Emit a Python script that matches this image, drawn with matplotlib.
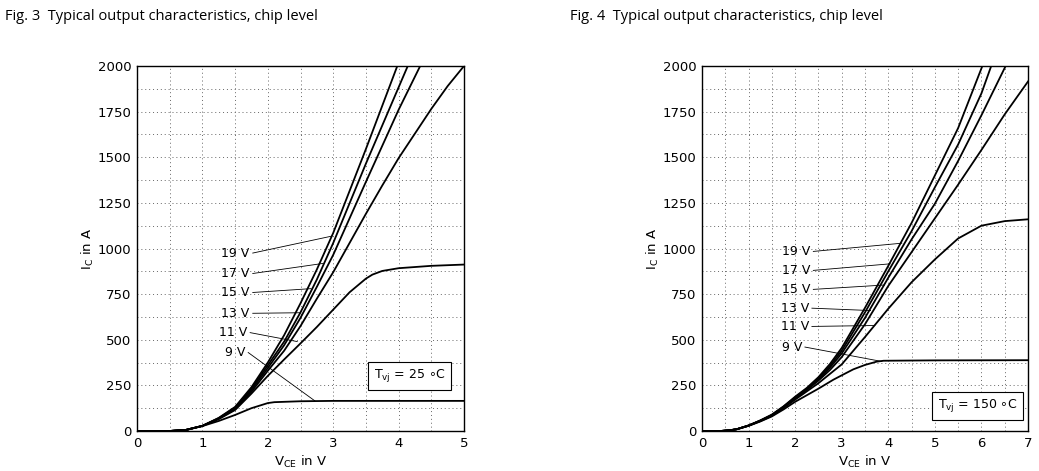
import matplotlib
matplotlib.use("Agg")
import matplotlib.pyplot as plt
from matplotlib.ticker import MultipleLocator

plt.rcParams['font.family'] = ['DejaVu Sans']
plt.rcParams['mathtext.fontset'] = 'dejavusans'

# ---- Fig. 3, Tvj = 25 C ----
v19_25 = [0, 0.5, 0.75, 1.0, 1.25, 1.5, 1.75, 2.0, 2.25, 2.5, 2.75, 3.0, 3.5, 3.98]
i19_25 = [0, 0, 6, 28, 72, 132, 240, 375, 525, 700, 885, 1085, 1545, 2000]
v17_25 = [0, 0.5, 0.75, 1.0, 1.25, 1.5, 1.75, 2.0, 2.25, 2.5, 2.75, 3.0, 3.5, 4.14]
i17_25 = [0, 0, 6, 28, 70, 128, 232, 360, 490, 650, 830, 1030, 1465, 2000]
v15_25 = [0, 0.5, 0.75, 1.0, 1.25, 1.5, 1.75, 2.0, 2.25, 2.5, 2.75, 3.0, 3.5, 4.0, 4.33]
i15_25 = [0, 0, 6, 28, 69, 125, 225, 345, 470, 620, 790, 965, 1365, 1760, 2000]
v13_25 = [0, 0.5, 0.75, 1.0, 1.25, 1.5, 1.75, 2.0, 2.25, 2.5, 2.75, 3.0, 3.25, 3.5,
          3.75, 4.0, 4.25, 4.5, 4.75, 5.0]
i13_25 = [0, 0, 6, 28, 68, 120, 215, 330, 440, 575, 725, 870, 1030, 1190,
          1345, 1495, 1630, 1765, 1890, 2000]
v11_25 = [0, 0.5, 0.75, 1.0, 1.25, 1.5, 1.75, 2.0, 2.25, 2.5, 2.75, 3.0, 3.25, 3.5,
          3.6, 3.75, 4.0, 4.5, 5.0]
i11_25 = [0, 0, 6, 28, 65, 115, 205, 302, 392, 480, 570, 665, 760, 835,
          857, 877, 892, 905, 912]
v9_25 = [0, 0.5, 0.75, 1.0, 1.25, 1.5, 1.75, 2.0, 2.1, 2.5, 3.0, 5.0]
i9_25 = [0, 0, 6, 27, 55, 88, 125, 153, 158, 163, 165, 165]

# ---- Fig. 4, Tvj = 150 C ----
v19_150 = [0, 0.4, 0.6, 0.75, 1.0, 1.25, 1.5, 1.75, 2.0, 2.25, 2.5, 2.75, 3.0, 3.5,
           4.0, 4.5, 5.0, 5.5, 6.02]
i19_150 = [0, 0, 4, 10, 30, 58, 90, 135, 188, 236, 295, 368, 455, 675,
           905, 1140, 1400, 1660, 2000]
v17_150 = [0, 0.4, 0.6, 0.75, 1.0, 1.25, 1.5, 1.75, 2.0, 2.25, 2.5, 2.75, 3.0, 3.5,
           4.0, 4.5, 5.0, 5.5, 6.0, 6.21]
i17_150 = [0, 0, 4, 10, 30, 57, 88, 133, 184, 232, 288, 358, 440, 650,
           875, 1095, 1335, 1570, 1850, 2000]
v15_150 = [0, 0.4, 0.6, 0.75, 1.0, 1.25, 1.5, 1.75, 2.0, 2.25, 2.5, 2.75, 3.0, 3.5,
           4.0, 4.5, 5.0, 5.5, 6.0, 6.52]
i15_150 = [0, 0, 4, 10, 30, 56, 86, 131, 181, 228, 282, 348, 425, 620,
           840, 1050, 1245, 1480, 1730, 2000]
v13_150 = [0, 0.4, 0.6, 0.75, 1.0, 1.25, 1.5, 1.75, 2.0, 2.25, 2.5, 2.75, 3.0, 3.5,
           4.0, 4.5, 5.0, 5.5, 6.0, 6.5, 7.0]
i13_150 = [0, 0, 4, 10, 30, 55, 85, 129, 178, 225, 276, 335, 405, 585,
           795, 980, 1165, 1350, 1540, 1735, 1915]
v11_150 = [0, 0.4, 0.6, 0.75, 1.0, 1.25, 1.5, 1.75, 2.0, 2.5, 3.0, 3.5, 4.0, 4.5,
           5.0, 5.5, 6.0, 6.5, 7.0]
i11_150 = [0, 0, 4, 10, 29, 54, 83, 126, 172, 262, 365, 515, 670, 815,
           940, 1055, 1125, 1150, 1160]
v9_150 = [0, 0.4, 0.6, 0.75, 1.0, 1.25, 1.5, 1.75, 2.0, 2.5, 2.82, 3.0, 3.25, 3.5,
          3.75, 3.9, 5.0, 7.0]
i9_150 = [0, 0, 4, 10, 28, 52, 80, 118, 160, 232, 281, 305, 338, 362,
          380, 385, 387, 388]

labels = ['19 V', '17 V', '15 V', '13 V', '11 V', '9 V']

# leader lines: start (at label) -> end (on curve)
lead25_x0 = [1.77, 1.77, 1.77, 1.77, 1.73, 1.70]
lead25_y0 = [975, 863, 759, 645, 539, 430]
lead25_x1 = [2.98, 2.84, 2.66, 2.50, 2.45, 2.72]
lead25_y1 = [1068, 918, 780, 648, 490, 165]

lead150_x0 = [2.39, 2.39, 2.39, 2.36, 2.36, 2.21]
lead150_y0 = [984, 880, 776, 673, 573, 460]
lead150_x1 = [4.29, 4.04, 3.92, 3.62, 3.71, 3.86]
lead150_y1 = [1029, 916, 800, 660, 578, 381]

curves25 = [(v19_25, i19_25), (v17_25, i17_25), (v15_25, i15_25),
            (v13_25, i13_25), (v11_25, i11_25), (v9_25, i9_25)]
curves150 = [(v19_150, i19_150), (v17_150, i17_150), (v15_150, i15_150),
             (v13_150, i13_150), (v11_150, i11_150), (v9_150, i9_150)]

fig = plt.figure(figsize=(10.39, 4.71), dpi=100)
ax1 = fig.add_axes([137/1039, 1 - 431/471, 327/1039, 365/471])
ax2 = fig.add_axes([702/1039, 1 - 431/471, 326/1039, 365/471])


def setup(ax, xmax):
    ax.set_xlim(0, xmax)
    ax.set_ylim(0, 2000)
    ax.xaxis.set_major_locator(MultipleLocator(1))
    ax.xaxis.set_minor_locator(MultipleLocator(0.5))
    ax.yaxis.set_major_locator(MultipleLocator(250))
    ax.yaxis.set_minor_locator(MultipleLocator(125))
    ax.grid(which='both', color='#666666', linestyle=(0, (1, 3)), linewidth=0.7)
    ax.tick_params(which='both', length=0, labelsize=9.5, pad=4)
    for s in ax.spines.values():
        s.set_linewidth(1.0)
    ax.set_xlabel(r'V$_\mathrm{CE}$ in V', fontsize=9.5, labelpad=3)
    ax.set_ylabel(r'I$_\mathrm{C}$ in A', fontsize=9.5, labelpad=1)


setup(ax1, 5)
setup(ax2, 7)

for v, i in curves25:
    ax1.plot(v, i, color='black', lw=1.3)
for v, i in curves150:
    ax2.plot(v, i, color='black', lw=1.3)

for k in range(6):
    ax1.plot([lead25_x0[k], lead25_x1[k]], [lead25_y0[k], lead25_y1[k]], color='black', lw=0.6)
    ax1.text(lead25_x0[k] - 0.05, lead25_y0[k], labels[k], ha='right', va='center', fontsize=9)
    ax2.plot([lead150_x0[k], lead150_x1[k]], [lead150_y0[k], lead150_y1[k]], color='black', lw=0.6)
    ax2.text(lead150_x0[k] - 0.06, lead150_y0[k], labels[k], ha='right', va='center', fontsize=9)

box = dict(boxstyle='square,pad=0.45', fc='white', ec='black', lw=0.8)
ax1.text(4.17, 302, r'T$_\mathrm{vj}$ = 25 $\circ$C', ha='center', va='center', fontsize=9, bbox=box)
ax2.text(5.92, 137, r'T$_\mathrm{vj}$ = 150 $\circ$C', ha='center', va='center', fontsize=9, bbox=box)

fig.text(5/1039, 1 - 17/471, 'Fig. 3  Typical output characteristics, chip level',
         family='Open Sans', fontsize=10.5, va='center', ha='left')
fig.text(570/1039, 1 - 17/471, 'Fig. 4  Typical output characteristics, chip level',
         family='Open Sans', fontsize=10.5, va='center', ha='left')

fig.savefig('out.png', dpi=100)
